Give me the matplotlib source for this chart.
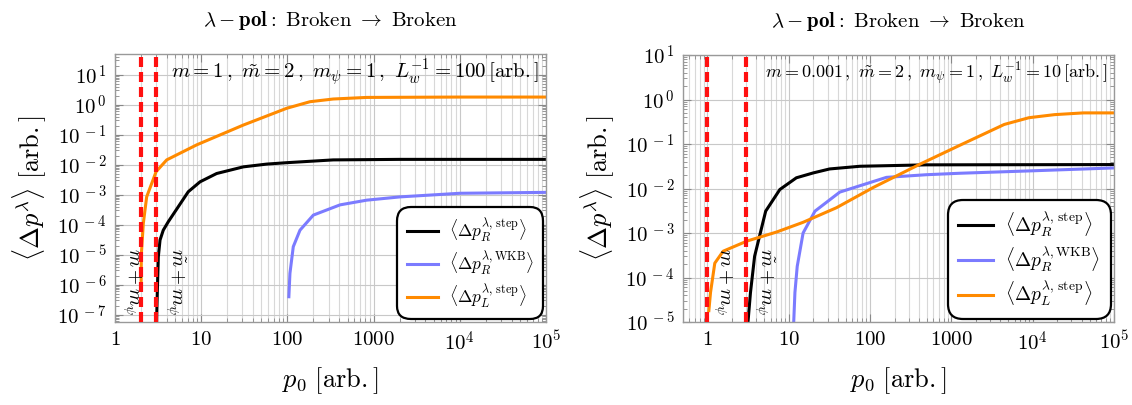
import matplotlib
matplotlib.use("Agg")
import matplotlib.pyplot as plt
from matplotlib.ticker import FixedLocator, FixedFormatter, LogLocator, NullFormatter

plt.rcParams['mathtext.fontset'] = 'cm'
plt.rcParams['font.family'] = ['DejaVu Serif']

# ---- left panel: m = 1, L_w^-1 = 100 ----
p_stepR_a = [3.0, 3.05, 3.1, 3.18, 3.33, 3.63, 4.15, 7.08, 9.7, 15.1, 30.8, 57.5, 98, 340, 2000, 1e5]
v_stepR_a = [1e-9, 1e-7, 6.3e-7, 8.5e-6, 3.1e-5, 6.6e-5, 1.26e-4, 1.26e-3, 2.7e-3, 5.1e-3,
             8.5e-3, 1.05e-2, 1.17e-2, 1.45e-2, 1.51e-2, 1.51e-2]
p_wkbR_a = [104, 107, 117, 140, 200, 408, 830, 2040, 1e4, 1e5]
v_wkbR_a = [4e-7, 2.4e-6, 1.86e-5, 6.6e-5, 2.1e-4, 4.6e-4, 6.6e-4, 8.5e-4, 1.12e-3, 1.2e-3]
p_stepL_a = [2.01, 2.02, 2.13, 2.33, 3.0, 3.98, 8.87, 30.8, 98, 183, 340, 830, 1e4, 1e5]
v_stepL_a = [1.2e-6, 1e-5, 1.1e-4, 8.5e-4, 5.9e-3, 1.45e-2, 4.6e-2, 0.21, 0.76, 1.26, 1.55, 1.75, 1.8, 1.8]

# ---- right panel: m = 0.001, L_w^-1 = 10 ----
p_stepR_b = [3.0, 3.15, 3.38, 3.8, 5.2, 7.77, 12.4, 20, 31.8, 75, 490, 1e5]
v_stepR_b = [1e-7, 1e-5, 4.6e-5, 3e-4, 3.1e-3, 9.5e-3, 1.74e-2, 2.24e-2, 2.75e-2, 3.16e-2, 3.4e-2, 3.45e-2]
p_wkbR_b = [11.3, 11.5, 11.9, 12.7, 15, 21, 42.4, 159, 492, 1260, 1e4, 1e5]
v_wkbR_b = [1e-6, 1e-5, 4.6e-5, 1.78e-4, 1e-3, 3.1e-3, 8.3e-3, 1.78e-2, 2.04e-2, 2.2e-2, 2.5e-2, 2.9e-2]
p_stepL_b = [1.04, 1.09, 1.23, 1.56, 3.07, 7.06, 15, 38.6, 109, 408, 1260, 4470, 9000, 1.86e4, 4.2e4, 1e5]
v_stepL_b = [1.8e-5, 4.6e-5, 2.1e-4, 3.9e-4, 6.6e-4, 1.05e-3, 1.74e-3, 3.7e-3, 1.05e-2, 3.5e-2,
             9.3e-2, 0.275, 0.39, 0.457, 0.5, 0.5]

thresholds_a = [2, 3]
thresholds_b = [1, 3]
xticks = [1, 10, 100, 1000, 1e4, 1e5]
xticklabels = ['$1$', '$10$', '$100$', '$1000$', '$10^4$', '$10^5$']

legend_labels = [r'$\langle\Delta p_R^{\lambda,\,\mathrm{step}}\rangle$',
                 r'$\langle\Delta p_R^{\lambda,\mathrm{WKB}}\rangle$',
                 r'$\langle\Delta p_L^{\lambda,\,\mathrm{step}}\rangle$']
title = r'$\lambda-\mathbf{pol}:\ \mathrm{Broken}\ \rightarrow\ \mathrm{Broken}$'

BLACK = 'black'
BLUE = '#7b7bff'
ORANGE = '#ff8a00'

fig = plt.figure(figsize=(11.32, 4.05), dpi=100)
ax1 = fig.add_axes([115 / 1132, 83 / 405, 431 / 1132, 268 / 405])
ax2 = fig.add_axes([683 / 1132, 83 / 405, 431 / 1132, 267 / 405])


def style(ax, xlim, ylim, yexps):
    ax.set_xscale('log')
    ax.set_yscale('log')
    ax.set_xlim(*xlim)
    ax.set_ylim(*ylim)
    ax.xaxis.set_major_locator(FixedLocator(xticks))
    ax.xaxis.set_major_formatter(FixedFormatter(xticklabels))
    ax.xaxis.set_minor_locator(LogLocator(base=10, subs=range(2, 10), numticks=20))
    ax.xaxis.set_minor_formatter(NullFormatter())
    ax.yaxis.set_major_locator(FixedLocator([10.0 ** e for e in yexps]))
    ax.yaxis.set_major_formatter(FixedFormatter(['$10^{\\,%d}$' % e for e in yexps]))
    ax.yaxis.set_minor_locator(LogLocator(base=10, subs=range(2, 10), numticks=20))
    ax.yaxis.set_minor_formatter(NullFormatter())
    ax.tick_params(which='both', direction='in', top=True, right=True, color='#888888')
    ax.tick_params(which='major', length=6, width=0.8, labelsize=15, pad=6)
    ax.tick_params(which='minor', length=3, width=0.6)
    ax.grid(True, which='major', axis='both', color='#c8c8c8', lw=0.8)
    ax.grid(True, which='minor', axis='x', color='#d8d8d8', lw=0.8)
    ax.set_axisbelow(True)
    for s in ax.spines.values():
        s.set_color('#999999')
        s.set_linewidth(1.0)
    ax.set_xlabel(r'$p_0\ [\mathrm{arb.}]$', fontsize=19, labelpad=8)
    ax.set_ylabel(r'$\langle\Delta p^{\lambda}\rangle\ [\mathrm{arb.}]$', fontsize=19, labelpad=6)
    ax.set_title(title, fontsize=15, pad=20)


def draw(ax, data, thresholds, lab_y, note, note_size, leg_size):
    lines = []
    for (p, v), c in zip(data, [BLACK, BLUE, ORANGE]):
        ln, = ax.plot(p, v, color=c, lw=2.2, solid_joinstyle='round')
        lines.append(ln)
    for t in thresholds:
        ax.axvline(t, color='#ff1010', lw=3, ls=(0, (2.4, 1.2)), zorder=4)
    ax.text(1.55, lab_y, r'$m+m_\psi$', rotation=270, ha='center', va='center', fontsize=14)
    ax.text(5.0, lab_y, r'$\tilde{m}+m_\psi$', rotation=270, ha='center', va='center', fontsize=14)
    ax.text(0.985, 0.93, note, transform=ax.transAxes, ha='right', va='center', fontsize=note_size)
    leg = ax.legend(lines, legend_labels, loc='lower right', fontsize=leg_size, frameon=True,
                    fancybox=True, edgecolor='black', framealpha=1, handlelength=1.8,
                    borderaxespad=0.15, labelspacing=0.3, borderpad=0.55, handletextpad=0.6)
    leg.get_frame().set_linewidth(1.6)
    leg.get_frame().set_boxstyle('round', pad=0, rounding_size=0.8)


style(ax1, (1, 1e5), (10 ** -7.24, 10 ** 1.69), range(-7, 2))
draw(ax1, [(p_stepR_a, v_stepR_a), (p_wkbR_a, v_wkbR_a), (p_stepL_a, v_stepL_a)],
     thresholds_a, 10 ** -5.9,
     r'$m=1\,,\ \tilde{m}=2\,,\ m_\psi=1\,,\ L_w^{-1}=100\,[\mathrm{arb.}]$', 15, 12.5)

style(ax2, (0.5, 1e5), (1e-5, 10), range(-5, 2))
draw(ax2, [(p_stepR_b, v_stepR_b), (p_wkbR_b, v_wkbR_b), (p_stepL_b, v_stepL_b)],
     thresholds_b, 10 ** -4.09,
     r'$m=0.001\,,\ \tilde{m}=2\,,\ m_\psi=1\,,\ L_w^{-1}=10\,[\mathrm{arb.}]$', 13, 14)

fig.savefig('out.png', dpi=100)
